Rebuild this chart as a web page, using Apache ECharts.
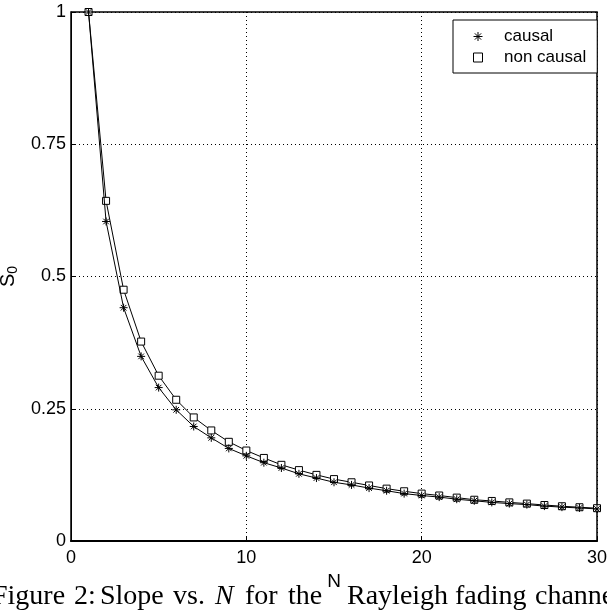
<!DOCTYPE html>
<html>
<head>
<meta charset="utf-8">
<script src="https://cdn.jsdelivr.net/npm/echarts@6/dist/echarts.min.js"></script>
<style>
	html, body { margin: 0; padding: 0; background: #fff; }
	#chart { width: 607px; height: 616px; }
</style>
</head>
<body>
<div id="chart"></div>
<script>
// N = 1..30
const nValues = [1, 2, 3, 4, 5, 6, 7, 8, 9, 10, 11, 12, 13, 14, 15, 16, 17, 18, 19, 20, 21, 22, 23, 24, 25, 26, 27, 28, 29, 30];
const causal = [1, 0.604, 0.441, 0.349, 0.29, 0.248, 0.2165, 0.195, 0.175, 0.161, 0.148, 0.138, 0.127, 0.119, 0.111, 0.106, 0.1, 0.095, 0.0896, 0.086, 0.083, 0.079, 0.076, 0.073, 0.0707, 0.0688, 0.066, 0.064, 0.0625, 0.0606];
const nonCausal = [1, 0.643, 0.475, 0.377, 0.3125, 0.267, 0.2336, 0.209, 0.1875, 0.171, 0.157, 0.144, 0.134, 0.125, 0.117, 0.111, 0.105, 0.099, 0.094, 0.0896, 0.086, 0.082, 0.078, 0.0757, 0.073, 0.0707, 0.068, 0.0657, 0.0638, 0.062];
const seriesNames = ['causal', 'non causal'];
const yTicks = [0, 0.25, 0.5, 0.75, 1];

const ASTERISK = 'path://M0,5L10,5M5,0L5,10M1.5,1.5L8.5,8.5M8.5,1.5L1.5,8.5';
const SQUARE = 'path://M0,0L10,0L10,10L0,10Z';
const FONT = 'Liberation Sans';
const SERIF = 'Liberation Serif';

const chart = echarts.init(document.getElementById('chart'));

const axisCommon = {
	axisTick: { show: true, inside: true, length: 5, lineStyle: { color: '#000' } },
	splitLine: { show: true, lineStyle: { color: '#000', type: [1, 3], width: 1 } },
	axisLabel: { color: '#000', fontFamily: FONT, fontSize: 18 }
};

// caption words placed one by one (LaTeX spacing differs from the browser's)
const captionWords = [
	[-8, 'Figure'], [74, '2:'], [100, 'Slope'], [173, 'vs.'], [215, '{i|N}'], [245, 'for'],
	[288, 'the'], [347, 'Rayleigh'], [455, 'fading'], [535, 'channel']
];
function captionPart(x, text) {
	return {
		type: 'text', x, y: 583,
		style: {
			text, align: 'left', verticalAlign: 'top',
			fontFamily: SERIF, fontSize: 28, fill: '#000',
			rich: { i: { fontFamily: SERIF, fontStyle: 'italic', fontSize: 28 } }
		}
	};
}

const option = {
	animation: false,
	backgroundColor: '#fff',
	grid: {
		left: 71, right: 10, top: 12, bottom: 75,
		outerBoundsMode: 'none',
		show: true, borderColor: '#000', borderWidth: 1.5
	},
	legend: {
		orient: 'vertical',
		left: 453, top: 20,
		padding: [8, 11, 7, 18],
		itemGap: 4,
		itemWidth: 10, itemHeight: 9,
		backgroundColor: '#fff',
		borderColor: '#000', borderWidth: 1, borderRadius: 0,
		textStyle: { color: '#000', fontFamily: FONT, fontSize: 17, padding: [0, 0, 0, 16] },
		data: [
			{ name: seriesNames[0], icon: ASTERISK, itemStyle: { color: 'none', borderColor: '#000', borderWidth: 1 } },
			{ name: seriesNames[1], icon: SQUARE, itemStyle: { color: '#fff', borderColor: '#000', borderWidth: 1 } }
		]
	},
	xAxis: {
		type: 'value', min: 0, max: 30, interval: 10,
		name: 'N', nameLocation: 'middle', nameGap: 29,
		nameTextStyle: { color: '#000', fontFamily: FONT, fontSize: 19 },
		axisLine: { show: true, lineStyle: { color: '#000', width: 2 } },
		...axisCommon,
		axisLabel: { ...axisCommon.axisLabel, margin: 8 }
	},
	yAxis: {
		type: 'value', min: 0, max: 1, interval: 0.25,
		name: 'S{sub|0}', nameLocation: 'middle', nameGap: 40, nameRotate: 90,
		nameTextStyle: {
			color: '#000', fontFamily: FONT, fontSize: 20,
			rich: { sub: { fontFamily: FONT, fontSize: 14, verticalAlign: 'bottom', padding: [9, 0, 0, 0] } }
		},
		axisLine: { show: true, lineStyle: { color: '#000', width: 1 } },
		...axisCommon,
		axisLabel: { ...axisCommon.axisLabel, margin: 5, formatter: v => yTicks.includes(v) ? String(v) : '' }
	},
	series: [
		{
			name: seriesNames[0], type: 'line',
			data: nValues.map((n, i) => [n, causal[i]]),
			symbol: ASTERISK, symbolSize: 8,
			itemStyle: { color: 'none', borderColor: '#000', borderWidth: 1 },
			lineStyle: { color: '#000', width: 1 },
			z: 3
		},
		{
			name: seriesNames[1], type: 'line',
			data: nValues.map((n, i) => [n, nonCausal[i]]),
			symbol: 'rect', symbolSize: 7,
			itemStyle: { color: '#fff', borderColor: '#000', borderWidth: 1 },
			lineStyle: { color: '#000', width: 1 },
			z: 2
		}
	],
	graphic: captionWords.map(([x, t]) => captionPart(x, t))
};

chart.setOption(option);
</script>
</body>
</html>
